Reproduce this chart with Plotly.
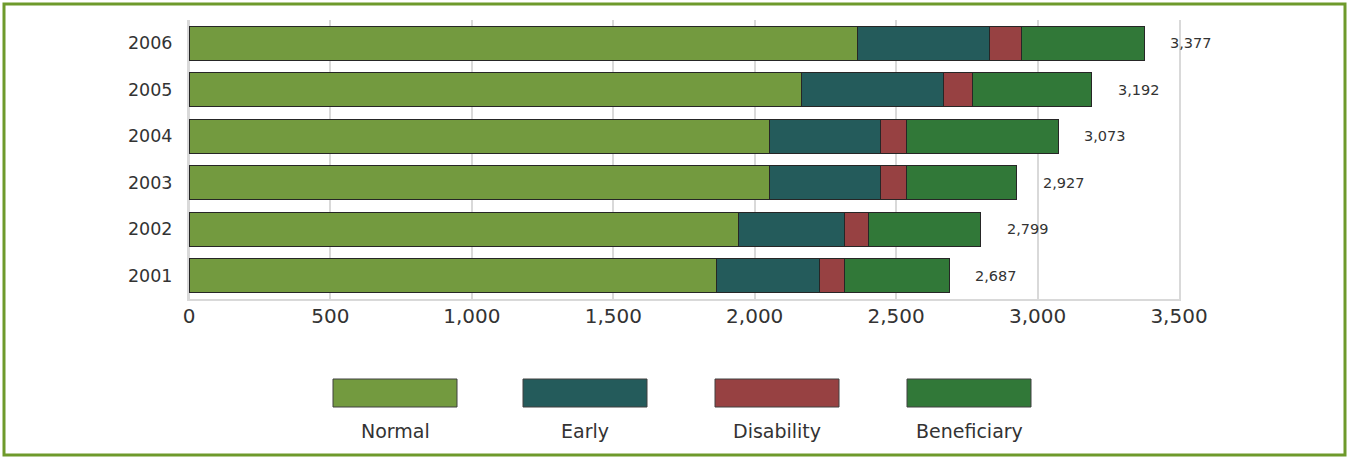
import plotly.graph_objects as go

# Pension payments by type, thousands
years = ["2001", "2002", "2003", "2004", "2005", "2006"]
normal = [1865, 1943, 2052, 2052, 2166, 2365]
early = [365, 373, 391, 391, 501, 465]
disability = [88, 88, 92, 92, 102, 113]
beneficiary = [369, 395, 392, 538, 423, 434]
totals = [2687, 2799, 2927, 3073, 3192, 3377]

series_names = ["Normal", "Early", "Disability", "Beneficiary"]
series_colors = ["#739A3F", "#245B5B", "#974142", "#317838"]
series_values = [normal, early, disability, beneficiary]

FONT = "DejaVu Sans"
TEXT = "#333333"
GRID = "#D9D9D9"

W, H = 1349, 459
M_L, M_R, M_T, M_B = 189, 170, 20, 160
PW, PH = W - M_L - M_R, H - M_T - M_B


def px_x(px):
    return (px - M_L) / PW


def px_y(py):
    return (H - M_B - py) / PH


fig = go.Figure()
for name, color, vals in zip(series_names, series_colors, series_values):
    fig.add_trace(go.Bar(
        y=years, x=vals, name=name, orientation="h",
        marker=dict(color=color, line=dict(color="#262626", width=1)),
        showlegend=False,
    ))

# Total label to the right of each bar (y given as category position)
for i, tot in enumerate(totals):
    fig.add_annotation(
        x=tot, y=i, xref="x", yref="y", text=f"{tot:,}",
        showarrow=False, xanchor="left", yanchor="middle", xshift=24,
        font=dict(family=FONT, size=14.5, color=TEXT),
    )

# Legend: swatch with its label centred underneath
sw_left = [333, 523, 715, 907]
for left, name, color in zip(sw_left, series_names, series_colors):
    fig.add_shape(
        type="rect", xref="paper", yref="paper",
        x0=px_x(left), x1=px_x(left + 124), y0=px_y(407), y1=px_y(379),
        fillcolor=color, line=dict(color="#404040", width=1),
    )
    fig.add_annotation(
        x=px_x(left + 62), y=px_y(431), xref="paper", yref="paper",
        text=name, showarrow=False, xanchor="center", yanchor="middle",
        font=dict(family=FONT, size=19, color=TEXT),
    )

# Outer frame
fig.add_shape(
    type="rect", xref="paper", yref="paper",
    x0=px_x(4), x1=px_x(1345), y0=px_y(455), y1=px_y(4),
    line=dict(color="#6E9A2B", width=3), fillcolor="rgba(0,0,0,0)",
    layer="below",
)

fig.update_layout(
    width=W, height=H,
    margin=dict(l=M_L, r=M_R, t=M_T, b=M_B),
    barmode="stack", bargap=0.27,
    plot_bgcolor="white", paper_bgcolor="white",
    font=dict(family=FONT, color=TEXT),
    xaxis=dict(
        range=[0, 3500], autorange=False, dtick=500, tickformat=",",
        showgrid=True, gridcolor=GRID, gridwidth=2,
        zeroline=True, zerolinecolor=GRID, zerolinewidth=2,
        showline=True, linecolor=GRID, linewidth=2,
        ticks="", tickfont=dict(family=FONT, size=20, color=TEXT),
        ticklabelstandoff=-2, fixedrange=True,
    ),
    yaxis=dict(
        type="category", categoryorder="array", categoryarray=years,
        range=[-0.5, len(years) - 0.5], autorange=False,
        showgrid=False, showline=True, mirror=True,
        linecolor=GRID, linewidth=2, ticks="",
        tickfont=dict(family=FONT, size=17.5, color=TEXT),
        ticklabelstandoff=11, fixedrange=True,
    ),
)

fig.write_html("out.html")
